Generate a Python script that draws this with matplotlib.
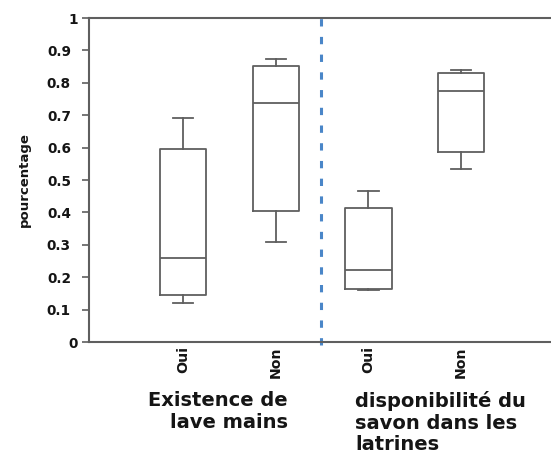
import matplotlib
matplotlib.use("Agg")
import matplotlib.pyplot as plt
from matplotlib.transforms import ScaledTranslation

plt.rcParams['font.family'] = ['DejaVu Sans']

tick_labels = ["Oui", "Non", "Oui", "Non"]
whislo = [0.12, 0.31, 0.16, 0.534]
q1 = [0.145, 0.403, 0.165, 0.587]
med = [0.26, 0.737, 0.222, 0.776]
q3 = [0.595, 0.852, 0.413, 0.831]
whishi = [0.69, 0.875, 0.465, 0.838]
group_labels = ["Existence de\nlave mains", "disponibilité du\nsavon dans les\nlatrines"]
yticks = [0, 0.1, 0.2, 0.3, 0.4, 0.5, 0.6, 0.7, 0.8, 0.9, 1]
ytick_labels = ["0", "0.1", "0.2", "0.3", "0.4", "0.5", "0.6", "0.7", "0.8", "0.9", "1"]

W, H = 551, 453
fig = plt.figure(figsize=(W / 100, H / 100), dpi=100)
ax = fig.add_axes([89 / W, 1 - 342 / H, (W - 89) / W, (342 - 18) / H])

stats = []
for i in range(len(tick_labels)):
    stats.append(dict(whislo=whislo[i], q1=q1[i], med=med[i], q3=q3[i],
                      whishi=whishi[i], fliers=[], label=tick_labels[i]))

gray = "#5f5f5f"
txt = "#151515"
lw = 1.3
ax.bxp(stats, positions=[1, 2, 3, 4], widths=0.5, showfliers=False,
       boxprops=dict(color=gray, linewidth=lw),
       medianprops=dict(color=gray, linewidth=lw),
       whiskerprops=dict(color=gray, linewidth=lw),
       capprops=dict(color=gray, linewidth=lw),
       capwidths=0.22)

ax.axvline(2.49, color="#4a86c8", linewidth=2.2, linestyle=(0, (2.4, 3.4)),
           ymin=-0.01, ymax=1, clip_on=False)

ax.set_xlim(-0.015, 4.97)
ax.set_ylim(0, 1)
ax.set_yticks(yticks)
ax.set_yticklabels(ytick_labels, fontsize=9.8, fontweight="bold", color=txt)
ax.set_xticks([1, 2, 3, 4])
ax.set_xticklabels(tick_labels, rotation=90, fontsize=10.2, fontweight="bold",
                   color=txt)
ax.tick_params(axis="x", length=0, pad=3)
ax.tick_params(axis="y", length=5, width=1.2, color=gray, pad=8)

shift = ScaledTranslation(7 / 100, 0, fig.dpi_scale_trans)
for lab in ax.get_yticklabels():
    if lab.get_text() in ("0", "1"):
        lab.set_transform(lab.get_transform() + shift)

for s in ["left", "top", "bottom"]:
    ax.spines[s].set_color(gray)
    ax.spines[s].set_linewidth(1.5)
ax.spines["right"].set_visible(False)

ax.set_ylabel("pourcentage", fontsize=9.5, fontweight="bold", color=txt)
ax.yaxis.set_label_coords(-0.125, 0.5)

fig.text(288 / W, 1 - 391 / H, group_labels[0], ha="right", va="top",
         multialignment="right", fontsize=14, fontweight="bold",
         color=txt, linespacing=1.17)
fig.text(355 / W, 1 - 391 / H, group_labels[1], ha="left", va="top",
         multialignment="left", fontsize=14, fontweight="bold",
         color=txt, linespacing=1.17)

fig.savefig("out.png", dpi=100)
